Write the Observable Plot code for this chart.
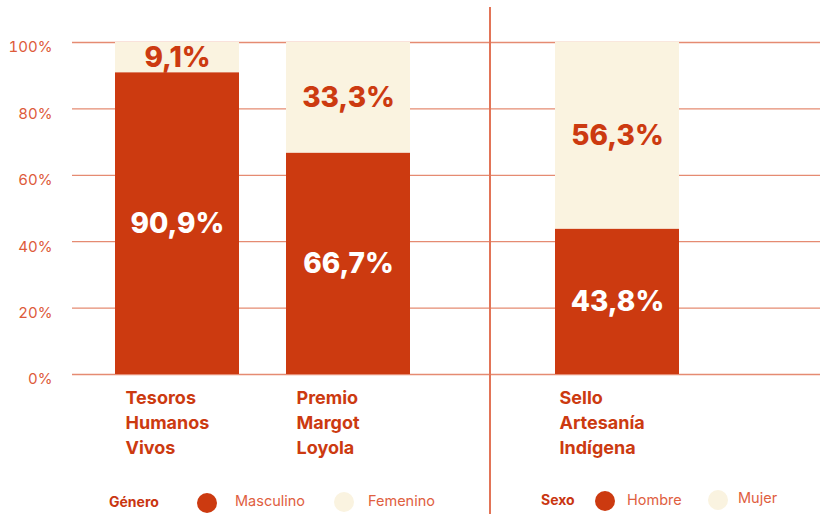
<!DOCTYPE html>
<html>
<head>
<meta charset="utf-8">
<script src="https://cdn.jsdelivr.net/npm/d3@7"></script>
<script src="https://cdn.jsdelivr.net/npm/@observablehq/plot@0.6"></script>
<style>
  html, body { margin: 0; padding: 0; background: #fff; }
  #wrap { position: relative; width: 820px; height: 514px; font-family: Inter, "Liberation Sans", sans-serif; overflow: hidden; }
  #left { position: absolute; left: 0; top: 0; }
  #right { position: absolute; left: 489px; top: 0; }
  #sep { position: absolute; left: 489px; top: 7px; width: 2px; height: 507px; background: #e27457; }
  .lg { position: absolute; white-space: nowrap; line-height: 1; }
  .lgt { font-weight: 700; font-size: 14px; color: #c93611; }
  .lgl { font-size: 14.5px; color: #e0603f; }
  .dot { position: absolute; width: 20px; height: 20px; border-radius: 50%; }
</style>
</head>
<body>
<div id="wrap">
  <div id="left"></div>
  <div id="right"></div>
  <div id="sep"></div>
  <div id="legend"></div>
</div>
<script>
// ---- Data ----
const leftCategories = ["Tesoros\nHumanos\nVivos", "Premio\nMargot\nLoyola"];
const masculino = [90.9, 66.7];
const femenino = [9.1, 33.3];
const leftSeries = ["Masculino", "Femenino"];

const rightCategories = ["Sello\nArtesanía\nIndígena"];
const hombre = [43.8];
const mujer = [56.3];
const rightSeries = ["Hombre", "Mujer"];

const yTicks = [0, 20, 40, 60, 80, 100];
const legendTitleLeft = "Género";
const legendTitleRight = "Sexo";

// ---- Styling ----
const RED = "#cc3a10";
const CREAM = "#faf3e0";
const GRID = "#e58b72";
const FONT = "Inter, 'Liberation Sans', sans-serif";

function rows(cats, a, b, names) {
  const out = [];
  cats.forEach((c, i) => {
    out.push({cat: c, series: names[0], value: a[i]});
    out.push({cat: c, series: names[1], value: b[i]});
  });
  return out;
}
const fmt = v => v.toFixed(1).replace(".", ",") + "%";

function chart(data, cats, names, opts) {
  const colorDomain = names;
  return Plot.plot({
    width: opts.width,
    height: 470,
    marginLeft: opts.marginLeft,
    marginRight: 0,
    marginTop: 42,
    marginBottom: 96,
    style: {fontFamily: FONT, background: "transparent", overflow: "visible"},
    x: {type: "band", domain: cats, range: opts.xRange, paddingInner: 0.275, paddingOuter: 0.25, axis: null},
    y: {domain: [0, 100], axis: null, label: null},
    color: {domain: colorDomain, range: [RED, CREAM]},
    marks: [
      Plot.ruleY(yTicks, {stroke: GRID, strokeWidth: 1.3}),
      opts.yAxis ? Plot.axisY(yTicks, {
        tickSize: 0, tickPadding: 20, tickFormat: d => d + "%", label: null,
        fill: "#dd5a3a", fontSize: 15, dy: 5
      }) : null,
      Plot.barY(data, {x: "cat", y: "value", fill: "series", order: colorDomain}),
      Plot.text(data, Plot.stackY({
        x: "cat", y: "value", z: "series", order: colorDomain,
        text: d => fmt(d.value),
        fill: d => d.series === names[0] ? "#ffffff" : RED,
        fontSize: 28, fontWeight: 800
      })),
      Plot.text(cats, {
        x: d => d, y: () => 0, text: d => d,
        textAnchor: "start", lineAnchor: "top", dx: opts.labelDx, dy: 12,
        fontSize: 18, fontWeight: 700, fill: RED, lineHeight: 1.39
      })
    ]
  });
}

document.getElementById("left").append(
  chart(rows(leftCategories, masculino, femenino, leftSeries), leftCategories, leftSeries,
    {width: 489, marginLeft: 72, xRange: [72, 453], yAxis: true, labelDx: -52})
);
document.getElementById("right").append(
  chart(rows(rightCategories, hombre, mujer, rightSeries), rightCategories, rightSeries,
    {width: 331, marginLeft: 0, xRange: [23, 233], yAxis: false, labelDx: -58})
);

// ---- Legends ----
const lg = document.getElementById("legend");
function add(html, cls, left, top, style) {
  const el = document.createElement("div");
  el.className = cls;
  el.style.left = left + "px";
  el.style.top = top + "px";
  if (style) Object.assign(el.style, style);
  el.textContent = html;
  lg.append(el);
}
add(legendTitleLeft, "lg lgt", 109, 495);
add("", "dot", 197, 493, {background: RED});
add(leftSeries[0], "lg lgl", 235, 494);
add("", "dot", 334, 492, {background: CREAM});
add(leftSeries[1], "lg lgl", 368, 494);

add(legendTitleRight, "lg lgt", 541, 493);
add("", "dot", 595, 491, {background: RED});
add(rightSeries[0], "lg lgl", 627, 493);
add("", "dot", 708, 490, {background: CREAM});
add(rightSeries[1], "lg lgl", 738, 491);
</script>
</body>
</html>
